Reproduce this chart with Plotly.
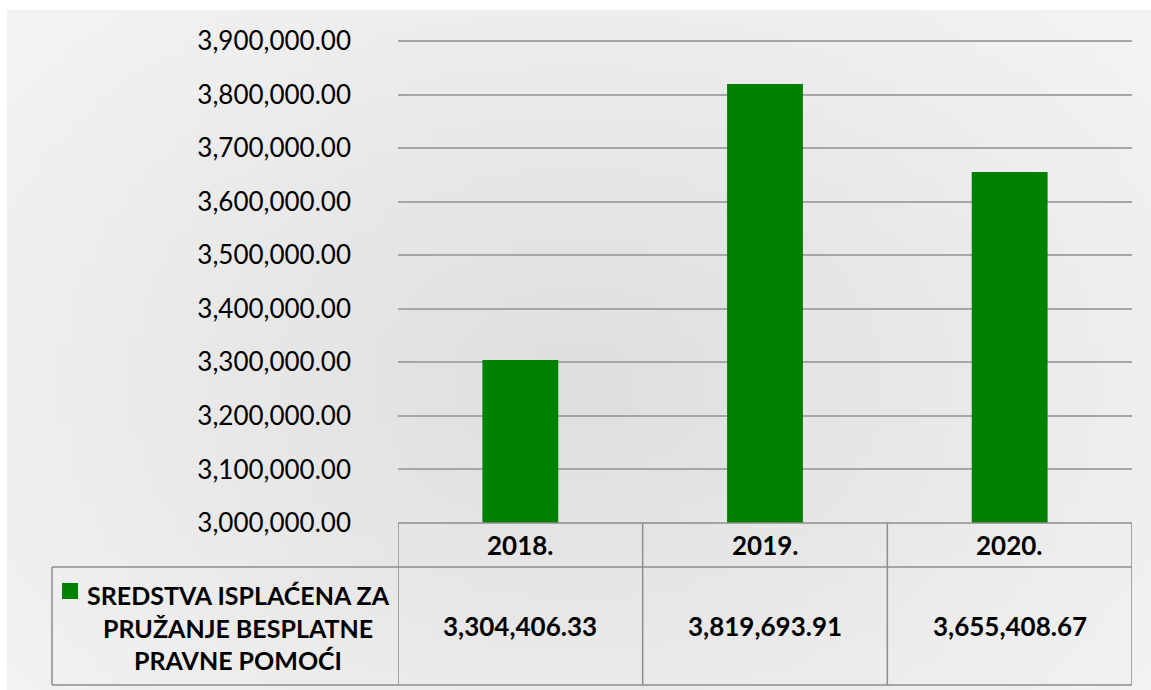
import base64, struct, zlib
import plotly.graph_objects as go

# ---- data ----
categories = ["2018.", "2019.", "2020."]
values = [3304406.33, 3819693.91, 3655408.67]
series_name = "SREDSTVA ISPLAĆENA ZA<br>PRUŽANJE BESPLATNE<br>PRAVNE POMOĆI"
y_ticks = [3000000, 3100000, 3200000, 3300000, 3400000, 3500000, 3600000, 3700000, 3800000, 3900000]

# ---- geometry (pixels) ----
W, H = 1151, 690
L, R, T, B = 398, 1132, 40, 523
pw, ph = R - L, B - T


def fx(px):
    return (px - L) / pw


def fy(py):
    return (B - py) / ph


def gradient_png(w, h):
    rows = []
    for j in range(h):
        row = bytearray([0])
        for i in range(w):
            dx = (i / (w - 1) - 0.5) / 0.62
            dy = (j / (h - 1) - 0.55) / 0.75
            d = min(1.0, (dx * dx + dy * dy) ** 0.5)
            v = int(round(222 + (242 - 222) * d))
            row += bytes([v, v, v])
        rows.append(bytes(row))
    raw = b"".join(rows)

    def chunk(t, d):
        c = struct.pack(">I", len(d)) + t + d
        return c + struct.pack(">I", zlib.crc32(t + d) & 0xffffffff)

    png = b"\x89PNG\r\n\x1a\n" + chunk(b"IHDR", struct.pack(">IIBBBBB", w, h, 8, 2, 0, 0, 0))
    png += chunk(b"IDAT", zlib.compress(raw, 9)) + chunk(b"IEND", b"")
    return "data:image/png;base64," + base64.b64encode(png).decode()


GREEN = "#008000"
LINE = "#8e8e8e"
FONT = "Lato"

idx = list(range(len(categories)))

fig = go.Figure(go.Bar(x=idx, y=values, width=0.31, marker=dict(color=GREEN, line=dict(width=0)),
                       hovertext=categories, showlegend=False))

fig.update_layout(
    width=W, height=H,
    margin=dict(l=L, r=W - R, t=T, b=H - B, pad=0),
    paper_bgcolor="white",
    plot_bgcolor="rgba(0,0,0,0)",
    font=dict(family=FONT, color="#000000"),
    xaxis=dict(type="linear", range=[-0.5, len(categories) - 0.5], tickvals=idx, ticktext=categories,
               showticklabels=False, showgrid=False, zeroline=False, showline=False, ticks=""),
    yaxis=dict(range=[3000000, 3902000], tickvals=y_ticks, tickformat=",.2f",
               showgrid=True, gridcolor="#a6a6a6", gridwidth=1.5, zeroline=False,
               showline=False, ticks="", ticklabelstandoff=46,
               tickfont=dict(family=FONT, size=26, color="#000000")),
)

# background gradient panel
fig.add_layout_image(dict(source=gradient_png(96, 60), xref="paper", yref="paper",
                          x=fx(7), y=fy(10), sizex=fx(W) - fx(7), sizey=fy(10) - fy(H),
                          sizing="stretch", layer="below", xanchor="left", yanchor="top"))

# data table lines
line = dict(color=LINE, width=1.5)
shapes = [
    dict(type="line", xref="paper", yref="paper", x0=fx(L), x1=fx(R), y0=fy(523), y1=fy(523), line=line),
    dict(type="line", xref="paper", yref="paper", x0=fx(52), x1=fx(R), y0=fy(567), y1=fy(567), line=line),
    dict(type="line", xref="paper", yref="paper", x0=fx(52), x1=fx(R), y0=fy(685), y1=fy(685), line=line),
    dict(type="line", xref="paper", yref="paper", x0=fx(52), x1=fx(52), y0=fy(567), y1=fy(685), line=line),
]
for i in range(len(categories) + 1):
    shapes.append(dict(type="line", xref="x", yref="paper", x0=i - 0.5, x1=i - 0.5,
                       y0=fy(523), y1=fy(685), line=line))
# legend key
shapes.append(dict(type="rect", xref="paper", yref="paper", x0=fx(62), x1=fx(78), y0=fy(583), y1=fy(599),
                   fillcolor=GREEN, line=dict(width=0)))
fig.update_layout(shapes=shapes)

for i, (c, v) in enumerate(zip(categories, values)):
    fig.add_annotation(x=i, xref="x", y=fy(545), yref="paper", text="<b>%s</b>" % c, showarrow=False,
                       font=dict(family=FONT, size=26, color="#000000"), xanchor="center", yanchor="middle")
    fig.add_annotation(x=i, xref="x", y=fy(626), yref="paper", text="<b>{:,.2f}</b>".format(v), showarrow=False,
                       font=dict(family=FONT, size=26, color="#000000"), xanchor="center", yanchor="middle")

fig.add_annotation(x=fx(238), xref="paper", y=fy(627), yref="paper", text="<b>%s</b>" % series_name,
                   showarrow=False, align="center", xanchor="center", yanchor="middle",
                   font=dict(family=FONT, size=25, color="#000000"))

fig.write_html("out.html", config={"displayModeBar": False},
               post_script="document.body.style.margin='0';")
